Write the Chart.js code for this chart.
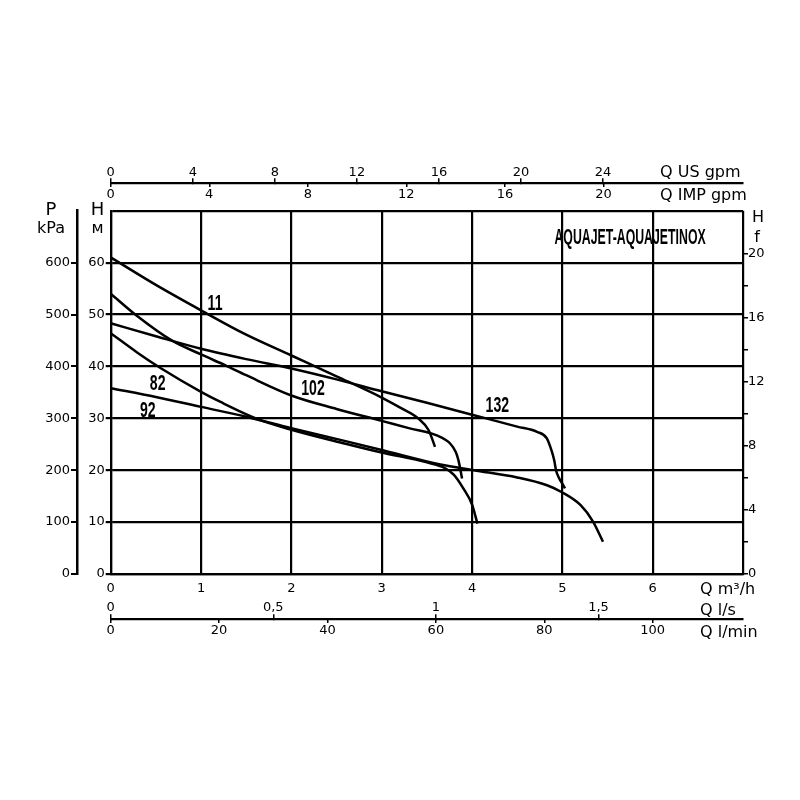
<!DOCTYPE html>
<html><head><meta charset="utf-8">
<script src="https://cdn.jsdelivr.net/npm/chart.js@4.4.1/dist/chart.umd.min.js"></script>
<style>html,body{margin:0;padding:0;background:#fff}#wrap{width:800px;height:800px}</style>
</head><body><div id="wrap"><canvas id="c" width="800" height="800"></canvas></div>
<script>
// ---- data: flow Q (m³/h) and head H (m) for each pump curve ----
const q11  = [0, 0.5, 1, 1.5, 2, 2.5, 3, 3.2, 3.41, 3.52, 3.59];
const h11  = [61, 55.7, 50.8, 46.1, 42.1, 38.1, 34.0, 32.1, 29.9, 27.7, 24.5];
const q132 = [0, 0.5, 1, 1.5, 2, 2.5, 3, 3.5, 4, 4.5, 4.72, 4.83, 4.88, 4.91, 4.93, 4.96, 5.0, 5.03];
const h132 = [48.3, 45.8, 43.4, 41.4, 39.6, 37.5, 35.2, 33.0, 30.7, 28.4, 27.4, 26.1, 23.8, 21.9, 20.0, 18.6, 17.4, 16.5];
const q102 = [0, 0.3, 0.675, 1, 1.27, 1.5, 2, 2.5, 3, 3.3, 3.61, 3.76, 3.82, 3.85, 3.89];
const h102 = [54, 49.6, 45, 42.3, 40.2, 38.3, 34.4, 31.8, 29.5, 28.1, 26.7, 25.1, 23.5, 21.9, 18.4];
const q82  = [0, 0.3, 0.56, 1, 1.21, 1.62, 2, 2.6, 3, 3.5, 3.7, 3.8, 3.9, 4.0, 4.06];
const h82  = [46.4, 42.6, 39.6, 35.1, 33.2, 29.9, 27.8, 25.1, 23.4, 21.5, 20.4, 19.1, 16.6, 13.4, 9.7];
const q92  = [0, 0.5, 1, 1.5, 2, 2.6, 3, 3.65, 4.02, 4.5, 4.83, 4.99, 5.2, 5.34, 5.45];
const h92  = [35.8, 34.1, 32.2, 30.3, 28.1, 25.6, 23.9, 21.1, 20.0, 18.6, 17.1, 15.8, 13.3, 10.1, 6.2];

const curveNames = ['11', '132', '102', '82', '92'];
const labelQ = [1.155, 4.28, 2.24, 0.52, 0.41];
const labelH = [52.1, 32.3, 35.6, 36.7, 31.4];
const chartTitle = 'AQUAJET-AQUAJETINOX';
const titleQ = 5.75, titleH = 64.7;

// axis conversions from m³/h
const US_GPM_PER_M3H = 4.403;
const IMP_GPM_PER_M3H = 3.666;
const LPS_PER_M3H = 1 / 3.6;
const LPM_PER_M3H = 1000 / 60;
const Q_MAX = 7, H_MAX = 70, KPA_MAX = 700, FT_MAX = 22.7;
const TOP_LINE_H = 75.4, BOTTOM_LINE_H = -8.67;

const black = '#000';
const clear = 'rgba(0,0,0,0)';
const tickFont = {family: '"DejaVu Sans", sans-serif', size: 13, lineHeight: 1.2};

function mk(q, h) { return q.map((v, i) => ({x: v, y: h[i]})); }
const series = [[q11, h11], [q132, h132], [q102, h102], [q82, h82], [q92, h92]];

const textPlugin = {
  id: 'texts',
  afterDraw(chart) {
    const {ctx, scales} = chart;
    const xs = scales.x, ys = scales.y;
    ctx.save();
    ctx.fillStyle = black;
    function condensed(text, px, py, size, sx) {
      ctx.save();
      ctx.font = 'bold ' + size + 'px "Liberation Sans", Arial, sans-serif';
      ctx.textAlign = 'center'; ctx.textBaseline = 'middle';
      ctx.translate(px, py); ctx.scale(sx, 1);
      ctx.fillText(text, 0, 0);
      ctx.restore();
    }
    curveNames.forEach((t, i) => condensed(t, xs.getPixelForValue(labelQ[i]), ys.getPixelForValue(labelH[i]), 22, 0.64));
    condensed(chartTitle, xs.getPixelForValue(titleQ), ys.getPixelForValue(titleH), 22, 0.56);

    ctx.textBaseline = 'alphabetic';
    ctx.textAlign = 'left';
    ctx.font = '16px "DejaVu Sans", sans-serif';
    ctx.fillText('Q US gpm', 660, 176.5);
    ctx.fillText('Q IMP gpm', 660, 199.5);
    ctx.fillText('Q m\u00B3/h', 700, 593.5);
    ctx.fillText('Q l/s', 700, 615);
    ctx.fillText('Q l/min', 700, 637);

    ctx.textAlign = 'center';
    ctx.font = '18px "DejaVu Sans", sans-serif';
    ctx.fillText('P', 51, 215);
    ctx.fillText('H', 97.5, 215);
    ctx.font = '16px "DejaVu Sans", sans-serif';
    ctx.fillText('kPa', 51, 233);
    ctx.fillText('\u043C', 97.5, 233);
    ctx.fillText('H', 758, 221.5);
    ctx.fillText('f', 757, 242);
    ctx.restore();
  }
};

new Chart(document.getElementById('c'), {
  type: 'scatter',
  data: {
    datasets: series.map((s, i) => ({
      label: curveNames[i],
      data: mk(s[0], s[1]),
      showLine: true,
      pointRadius: 0,
      borderColor: black,
      borderWidth: 2.5,
      cubicInterpolationMode: 'monotone',
      xAxisID: 'x', yAxisID: 'y'
    }))
  },
  options: {
    responsive: false,
    animation: false,
    devicePixelRatio: 1,
    layout: {padding: {top: 210.7, left: 0, right: 0, bottom: 0}},
    plugins: {legend: {display: false}, tooltip: {enabled: false}},
    scales: {
      x: {
        type: 'linear', position: 'bottom', min: 0, max: Q_MAX,
        afterFit(s) { s.height = 226; },
        ticks: {stepSize: 1, autoSkip: false, maxRotation: 0, padding: 7, font: tickFont, color: black,
                callback: v => v <= 6 ? String(v) : ''},
        grid: {color: black, lineWidth: 2.2, drawTicks: false},
        border: {color: black, width: 2.2}
      },
      y: {
        type: 'linear', position: 'left', weight: 0, min: 0, max: H_MAX,
        afterFit(s) { s.width = 33.7; },
        ticks: {stepSize: 10, padding: 1, font: tickFont, color: black,
                callback: v => v < H_MAX ? String(v) : ''},
        grid: {color: black, lineWidth: 2.2, tickLength: 5,
               tickColor: c => (c.tick && c.tick.value < H_MAX) ? black : clear},
        border: {color: black, width: 2.2}
      },
      kpa: {
        axis: 'y', type: 'linear', position: 'left', weight: 1, min: 0, max: KPA_MAX,
        afterFit(s) { s.width = 77; },
        ticks: {stepSize: 100, padding: 1, font: tickFont, color: black,
                callback: v => v < KPA_MAX ? String(v) : ''},
        grid: {drawOnChartArea: false, tickLength: 6, lineWidth: 2,
               color: c => (c.tick && c.tick.value < KPA_MAX) ? black : clear},
        border: {color: black, width: 2.5}
      },
      ft: {
        axis: 'y', type: 'linear', position: 'right', min: 0, max: FT_MAX,
        afterFit(s) { s.width = 57; },
        ticks: {stepSize: 2, includeBounds: false, padding: 0, font: tickFont, color: black, autoSkip: false,
                callback: v => (v % 4 === 0 && v <= 20) ? String(v) : ''},
        grid: {drawOnChartArea: false, tickLength: 5, lineWidth: 1.5,
               color: c => (c.tick && c.tick.value <= 20) ? black : clear},
        border: {display: false}
      },
      usgpm: {
        axis: 'x', type: 'linear', position: {y: TOP_LINE_H}, min: 0, max: Q_MAX * US_GPM_PER_M3H,
        ticks: {stepSize: 4, includeBounds: false, autoSkip: false, maxRotation: 0, padding: -11.5, font: tickFont, color: black,
                callback: v => v <= 24 ? String(v) : ''},
        grid: {drawOnChartArea: false, tickLength: -6, lineWidth: 1.5,
               color: c => (c.tick && c.tick.value <= 24) ? black : clear},
        border: {display: true, color: black, width: 2.2}
      },
      impgpm: {
        axis: 'x', type: 'linear', position: {y: TOP_LINE_H}, min: 0, max: Q_MAX * IMP_GPM_PER_M3H,
        ticks: {stepSize: 4, includeBounds: false, autoSkip: false, maxRotation: 0, padding: 0, font: tickFont, color: black,
                callback: v => v <= 20 ? String(v) : ''},
        grid: {drawOnChartArea: false, tickLength: 4, lineWidth: 1.5,
               color: c => (c.tick && c.tick.value <= 20) ? black : clear},
        border: {display: false}
      },
      lps: {
        axis: 'x', type: 'linear', position: {y: BOTTOM_LINE_H}, min: 0, max: Q_MAX * LPS_PER_M3H,
        ticks: {stepSize: 0.5, includeBounds: false, autoSkip: false, maxRotation: 0, padding: -13, font: tickFont, color: black,
                callback: v => String(v).replace('.', ',')},
        grid: {drawOnChartArea: false, tickLength: -6, lineWidth: 1.5, color: black},
        border: {display: true, color: black, width: 2.2}
      },
      lpm: {
        axis: 'x', type: 'linear', position: {y: BOTTOM_LINE_H}, min: 0, max: Q_MAX * LPM_PER_M3H,
        ticks: {stepSize: 20, includeBounds: false, autoSkip: false, maxRotation: 0, padding: 0, font: tickFont, color: black,
                callback: v => v <= 100 ? String(v) : ''},
        grid: {drawOnChartArea: false, tickLength: 4, lineWidth: 1.5,
               color: c => (c.tick && c.tick.value <= 100) ? black : clear},
        border: {display: false}
      }
    }
  },
  plugins: [textPlugin]
});
</script>
</body></html>
